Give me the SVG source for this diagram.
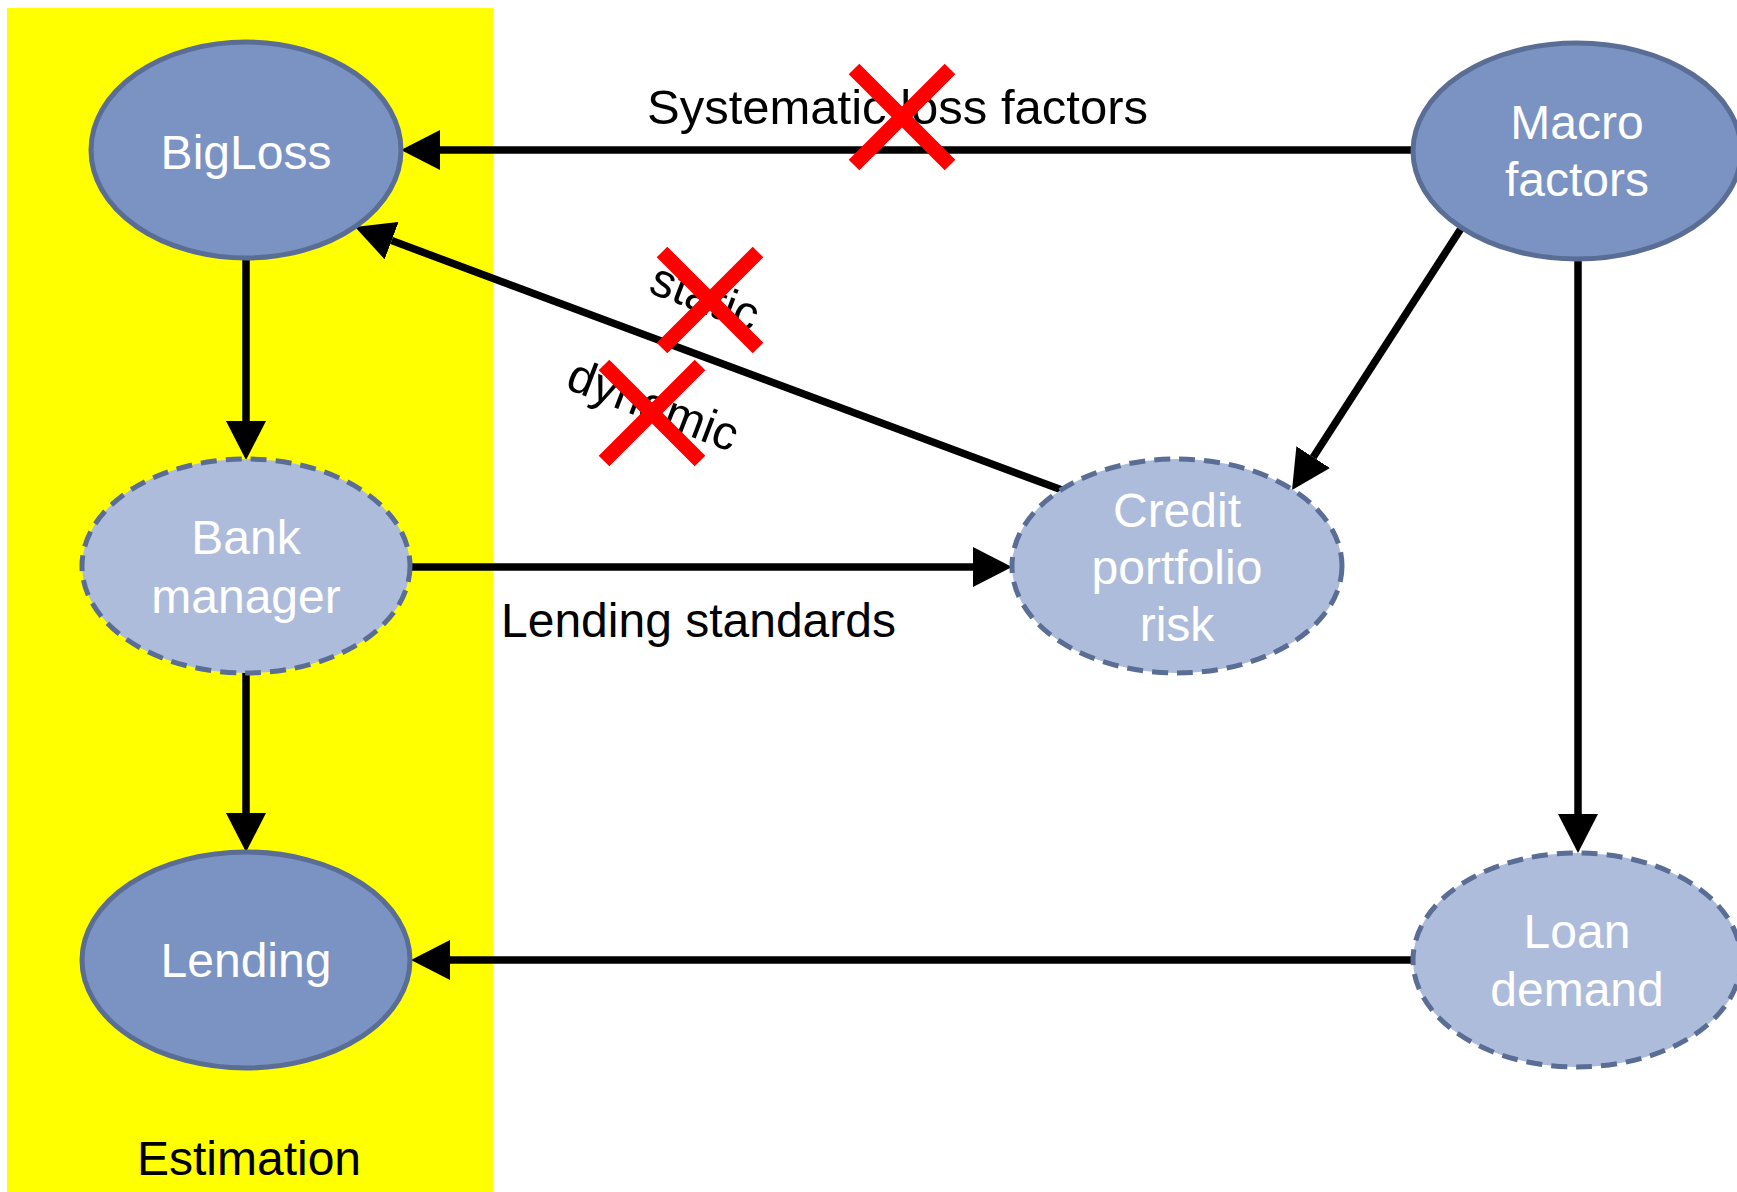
<svg xmlns="http://www.w3.org/2000/svg" width="1737" height="1192" viewBox="0 0 1737 1192">
  <style>
    .node-solid { fill: #7b93c3; stroke: #5a6d95; stroke-width: 5; }
    .node-latent { fill: #aebcdb; stroke: #5a6d95; stroke-width: 5; stroke-dasharray: 16 9; }
    .node-label { font-family: "Liberation Sans", Arial, sans-serif; font-size: 48px; fill: #ffffff; text-anchor: middle; }
    .edge { stroke: #000000; stroke-width: 7.5; fill: none; marker-end: url(#arrowhead); }
    .edge-label { font-family: "Liberation Sans", Arial, sans-serif; font-size: 48px; fill: #000000; }
    .cross { stroke: #ff0000; stroke-width: 15; stroke-linecap: butt; }
  </style>
  <defs>
    <marker id="arrowhead" markerUnits="userSpaceOnUse" viewBox="0 0 39 40" markerWidth="39" markerHeight="40" refX="0" refY="20" orient="auto">
      <path d="M0,0 L39,20 L0,40 Z" fill="#000000"/>
    </marker>
  </defs>

  <rect width="1737" height="1192" fill="#ffffff"/>

  <!-- estimation block -->
  <g id="estimation-region">
    <rect x="7" y="8" width="486" height="1184" fill="#ffff00"/>
    <text x="249" y="1175" class="edge-label" text-anchor="middle">Estimation</text>
  </g>

  <!-- connectors -->
  <g id="connectors">
    <line class="edge" x1="1413" y1="150" x2="440" y2="150"/>
    <line class="edge" x1="1062" y1="490" x2="391.6" y2="240.6"/>
    <line class="edge" x1="246" y1="258" x2="246" y2="421"/>
    <line class="edge" x1="410" y1="567" x2="973" y2="567"/>
    <line class="edge" x1="246" y1="673" x2="246" y2="813"/>
    <line class="edge" x1="1462" y1="227" x2="1313.2" y2="457.2"/>
    <line class="edge" x1="1578" y1="259" x2="1578" y2="814"/>
    <line class="edge" x1="1413" y1="960" x2="450" y2="960"/>

    <text class="edge-label" x="647" y="124" style="font-size:49px">Systematic loss factors</text>
    <text class="edge-label" x="501" y="637">Lending standards</text>
    <text class="edge-label" transform="translate(647 292) rotate(21)">static</text>
    <text class="edge-label" transform="translate(564 388) rotate(21)">dynamic</text>
  </g>

  <!-- struck-out relations -->
  <g id="strikes">
    <path class="cross" d="M854,69 L950,165 M950,69 L854,165"/>
    <path class="cross" d="M662,252 L758,348 M758,252 L662,348"/>
    <path class="cross" d="M604,365 L700,461 M700,365 L604,461"/>
  </g>

  <g id="node-bigloss">
    <ellipse class="node-solid" cx="246" cy="150" rx="155" ry="108"/>
    <text class="node-label" x="246" y="169">BigLoss</text>
  </g>

  <g id="node-macro-factors">
    <ellipse class="node-solid" cx="1577" cy="151" rx="164" ry="108"/>
    <text class="node-label" x="1577" y="139">Macro</text>
    <text class="node-label" x="1577" y="196">factors</text>
  </g>

  <g id="node-bank-manager">
    <ellipse class="node-latent" cx="246" cy="566" rx="164" ry="107"/>
    <text class="node-label" x="246" y="554">Bank</text>
    <text class="node-label" x="246" y="613">manager</text>
  </g>

  <g id="node-credit-portfolio-risk">
    <ellipse class="node-latent" cx="1177" cy="566" rx="165" ry="107"/>
    <text class="node-label" x="1177" y="527">Credit</text>
    <text class="node-label" x="1177" y="584">portfolio</text>
    <text class="node-label" x="1177" y="641">risk</text>
  </g>

  <g id="node-lending">
    <ellipse class="node-solid" cx="246" cy="960" rx="164" ry="108"/>
    <text class="node-label" x="246" y="977">Lending</text>
  </g>

  <g id="node-loan-demand">
    <ellipse class="node-latent" cx="1577" cy="960" rx="164" ry="107"/>
    <text class="node-label" x="1577" y="948">Loan</text>
    <text class="node-label" x="1577" y="1006">demand</text>
  </g>
</svg>
